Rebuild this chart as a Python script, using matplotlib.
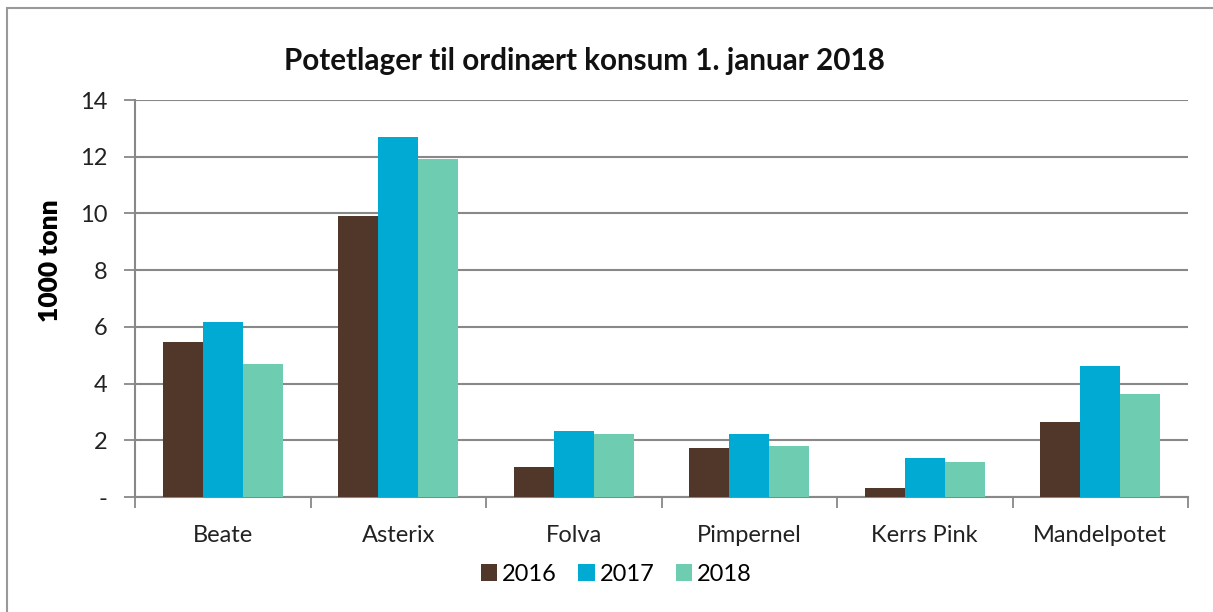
import numpy as np
import matplotlib
matplotlib.use('Agg')
import matplotlib.pyplot as plt
from matplotlib.patches import Rectangle

plt.rcParams['font.family'] = ['Lato', 'DejaVu Sans']

sorter = ['Beate', 'Asterix', 'Folva', 'Pimpernel', 'Kerrs Pink', 'Mandelpotet']
aar = ['2016', '2017', '2018']
v2016 = [5.45, 9.92, 1.07, 1.72, 0.31, 2.63]
v2017 = [6.17, 12.68, 2.34, 2.21, 1.36, 4.62]
v2018 = [4.69, 11.91, 2.21, 1.79, 1.22, 3.62]
farger = ['#50372A', '#00AAD3', '#6ECDB1']
yticks = [0, 2, 4, 6, 8, 10, 12, 14]
ylabels = ['-', '2', '4', '6', '8', '10', '12', '14']

fig = plt.figure(figsize=(12.13, 6.12), dpi=100)
ax = fig.add_axes([0.1113, 0.1879, 0.8681, 0.6487])

x = np.arange(len(sorter))
w = 0.228
for i, (verdier, farge) in enumerate(zip([v2016, v2017, v2018], farger)):
    ax.bar(x + (i - 1) * w, verdier, w, color=farge, label=aar[i], zorder=3)

ax.set_xlim(-0.5, len(sorter) - 0.5)
ax.set_ylim(0, 14)
ax.set_yticks(yticks)
ax.set_yticklabels(ylabels, fontsize=17, color='#222222')
ax.set_xticks(x)
ax.set_xticklabels(sorter, fontsize=17, color='#222222')
ax.set_xticks(np.arange(-0.5, len(sorter), 1), minor=True)
ax.tick_params(axis='x', which='major', length=0, pad=20)
ax.tick_params(axis='x', which='minor', length=8, color='#888888', width=1.3)
ax.tick_params(axis='y', length=8, color='#888888', width=1.3, pad=12)

ax.grid(axis='y', color='#888888', linewidth=1.5, zorder=0)
for s in ['top', 'right']:
    ax.spines[s].set_visible(False)
for s in ['left', 'bottom']:
    ax.spines[s].set_color('#888888')
    ax.spines[s].set_linewidth(1.5)

ax.set_ylabel('1000 tonn', fontsize=19, fontweight='heavy')
ax.yaxis.set_label_coords(-0.069, 0.594)
fig.text(0.482, 0.9, 'Potetlager til ordinært konsum 1. januar 2018',
         ha='center', va='center', fontsize=21.3, fontweight='bold', color='#111111')

ax.legend(loc='center', bbox_to_anchor=(0.457, -0.195), ncol=3, frameon=False,
          fontsize=17, handlelength=0.7, handleheight=0.7, handletextpad=0.2,
          columnspacing=0.9)

fig.patches.append(Rectangle((7 / 1213, -0.1), 1.2, 1 - 8 / 612 + 0.1,
                             transform=fig.transFigure, fill=False,
                             edgecolor='#999999', linewidth=1.5))

fig.savefig('out.png', dpi=100)
